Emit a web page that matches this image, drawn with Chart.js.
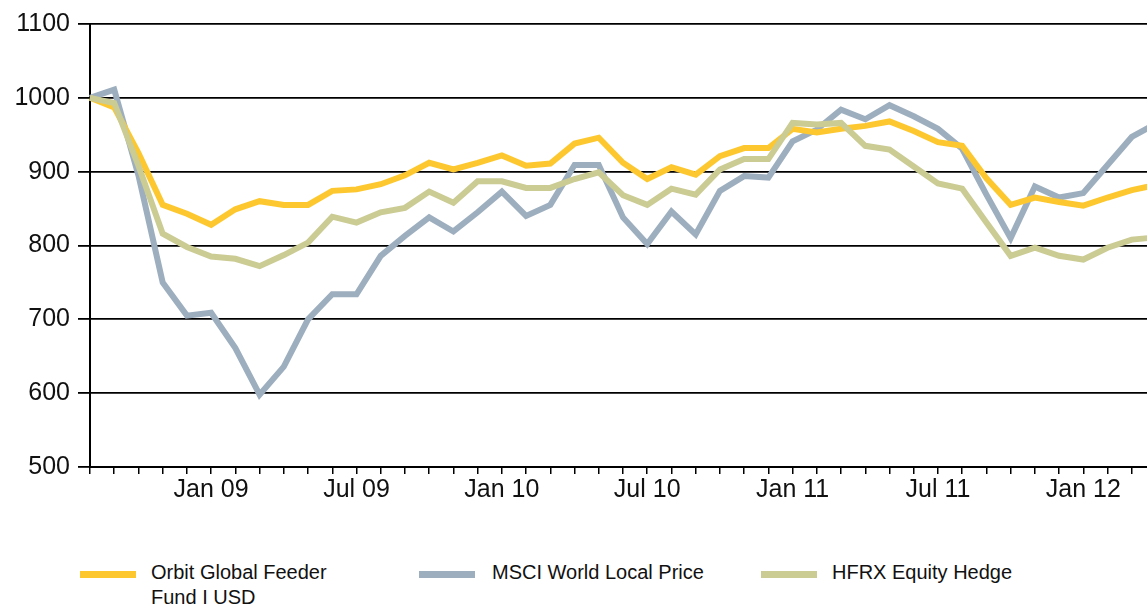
<!DOCTYPE html>
<html lang="en">
<head>
    <meta charset="UTF-8">
    <title>Orbit Global Feeder Fund</title>
    <style>
        html, body { margin: 0; padding: 0; background: #fff; overflow: hidden; }
        body { width: 1147px; height: 608px; position: relative; font-family: "Liberation Sans", Arial, sans-serif; }
        #wrap { position: absolute; left: 0; top: 0; width: 1170px; height: 520px; }
        .lg { position: absolute; font-size: 20px; line-height: 25px; color: #111; }
        .sw { position: absolute; width: 56px; height: 7px; }
    </style>
</head>
<body>
    <div id="wrap"><canvas id="myChart" width="1170" height="520"></canvas></div>

    <div class="sw" style="left:80px; top:571px; background:#FDC82F"></div>
    <div class="lg" style="left:151px; top:560px">Orbit Global Feeder<br>Fund I USD</div>
    <div class="sw" style="left:419px; top:571px; background:#9DAEBF"></div>
    <div class="lg" style="left:492px; top:560px">MSCI World Local Price</div>
    <div class="sw" style="left:761px; top:571px; background:#CBCB94"></div>
    <div class="lg" style="left:832px; top:560px">HFRX Equity Hedge</div>

    <script src="https://cdn.jsdelivr.net/npm/chart.js"></script>
    <script>
        // months Aug 08 .. Apr 12
        const v_months = [
            "Aug 08", "Sep 08", "Oct 08", "Nov 08", "Dec 08",
            "Jan 09", "Feb 09", "Mar 09", "Apr 09", "May 09", "Jun 09",
            "Jul 09", "Aug 09", "Sep 09", "Oct 09", "Nov 09", "Dec 09",
            "Jan 10", "Feb 10", "Mar 10", "Apr 10", "May 10", "Jun 10",
            "Jul 10", "Aug 10", "Sep 10", "Oct 10", "Nov 10", "Dec 10",
            "Jan 11", "Feb 11", "Mar 11", "Apr 11", "May 11", "Jun 11",
            "Jul 11", "Aug 11", "Sep 11", "Oct 11", "Nov 11", "Dec 11",
            "Jan 12", "Feb 12", "Mar 12", "Apr 12"
        ];

        const v_orbit = [1000, 987, 925, 855, 843, 828, 849, 860, 855, 855, 874, 876, 883, 895, 912,
            903, 912, 922, 908, 911, 938, 946, 912, 890, 906, 896, 921, 932, 932, 958,
            953, 958, 962, 968, 955, 940, 935, 891, 855, 865, 859, 854, 865, 875, 882];

        const v_msci = [1000, 1011, 895, 750, 705, 709, 661, 598, 636, 700, 734, 734, 786, 813, 838,
            819, 845, 873, 840, 855, 909, 909, 838, 802, 846, 815, 874, 894, 892, 941,
            957, 984, 971, 990, 975, 958, 931, 869, 810, 880, 865, 871, 909, 947, 965];

        const v_hfrx = [1000, 993, 908, 816, 798, 785, 782, 772, 787, 804, 839, 831, 845, 851, 873,
            858, 887, 887, 878, 878, 890, 899, 868, 855, 877, 869, 903, 917, 917, 966,
            964, 966, 935, 930, 907, 884, 877, 831, 786, 797, 786, 781, 797, 808, 811];

        const v_yMin = 500;
        const v_yMax = 1100;
        const v_yStep = 100;

        const ctx = document.getElementById('myChart');

        new Chart(ctx, {
            type: 'line',
            data: {
                labels: v_months,
                datasets: [{
                    label: 'Orbit Global Feeder Fund I USD',
                    data: v_orbit,
                    borderColor: '#FDC82F',
                    borderWidth: 6,
                    order: 1
                }, {
                    label: 'MSCI World Local Price',
                    data: v_msci,
                    borderColor: '#9DAEBF',
                    borderWidth: 6,
                    order: 2
                }, {
                    label: 'HFRX Equity Hedge',
                    data: v_hfrx,
                    borderColor: '#CBCB94',
                    borderWidth: 6,
                    order: 0
                }]
            },
            options: {
                responsive: false,
                animation: false,
                elements: { point: { radius: 0 }, line: { tension: 0 } },
                layout: { padding: { left: 0, top: 24, right: 14, bottom: 0 } },
                plugins: { legend: { display: false }, tooltip: { enabled: false } },
                scales: {
                    x: {
                        offset: false,
                        afterFit: (s) => { s.height = 53; },
                        border: { display: true, color: '#000', width: 2 },
                        grid: { drawOnChartArea: false, drawTicks: true, tickLength: 7, color: '#000', lineWidth: 1.5 },
                        ticks: {
                            autoSkip: false,
                            maxRotation: 0,
                            padding: 1,
                            color: '#111',
                            font: { family: 'Liberation Sans', size: 25 },
                            callback: function (value) {
                                const lab = this.getLabelForValue(value);
                                return (lab.startsWith('Jan') || lab.startsWith('Jul')) ? lab : '';
                            }
                        }
                    },
                    y: {
                        min: v_yMin,
                        max: v_yMax,
                        afterFit: (s) => { s.width = 90; },
                        border: { display: true, color: '#000', width: 2 },
                        grid: { color: '#000', lineWidth: 1.8, drawTicks: true, tickLength: 12 },
                        ticks: {
                            stepSize: v_yStep,
                            padding: 8,
                            color: '#111',
                            font: { family: 'Liberation Sans', size: 25 },
                            callback: (v) => String(v)
                        }
                    }
                }
            }
        });
    </script>
</body>
</html>
